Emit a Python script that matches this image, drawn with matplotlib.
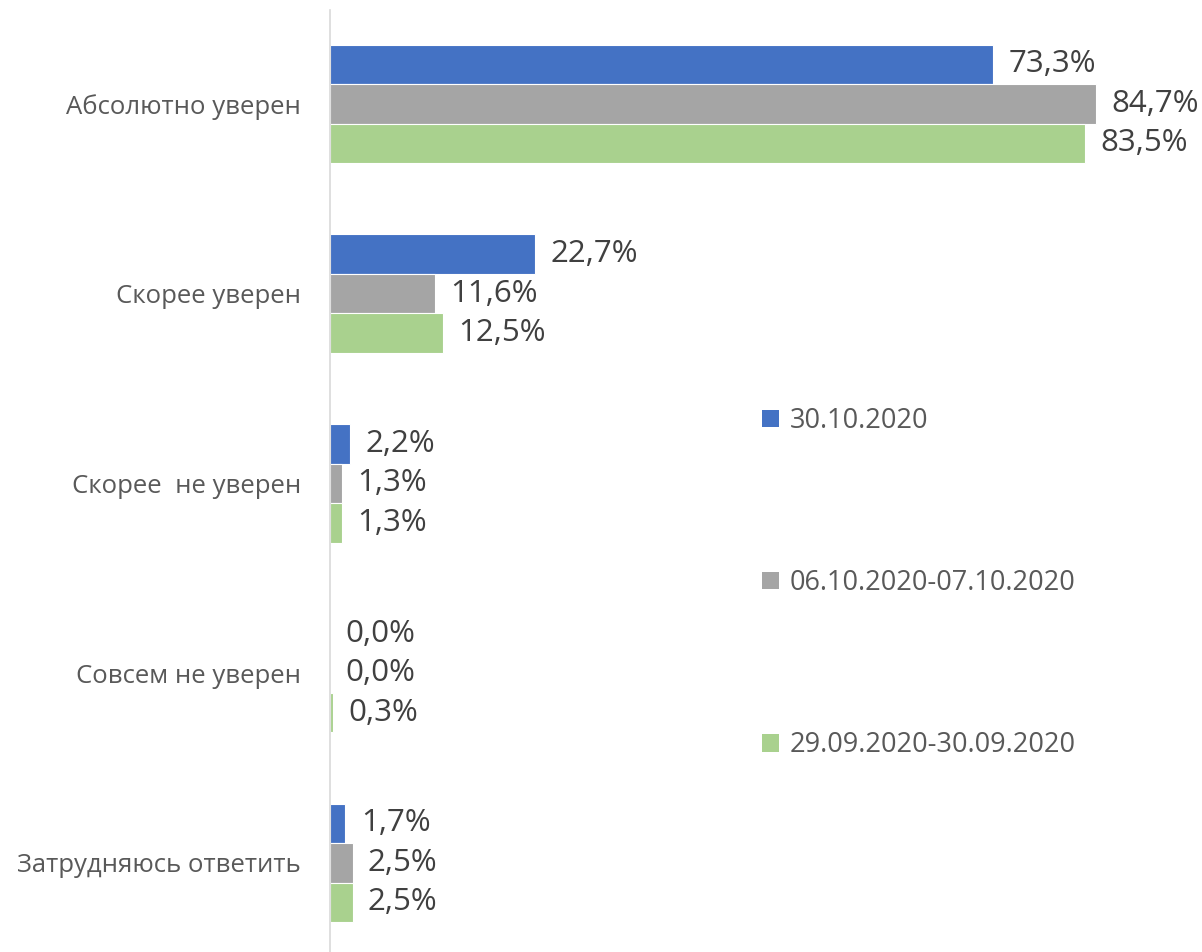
import matplotlib.pyplot as plt
import numpy as np
from matplotlib.patches import Patch

plt.rcParams['font.family'] = ['Open Sans', 'DejaVu Sans']

categories = ["Абсолютно уверен", "Скорее уверен", "Скорее  не уверен",
              "Совсем не уверен", "Затрудняюсь ответить"]
series_names = ["30.10.2020", "06.10.2020-07.10.2020", "29.09.2020-30.09.2020"]
v_3010 = [73.3, 22.7, 2.2, 0.0, 1.7]
v_0610 = [84.7, 11.6, 1.3, 0.0, 2.5]
v_2909 = [83.5, 12.5, 1.3, 0.3, 2.5]
colors = ["#4472C4", "#A5A5A5", "#A9D18E"]

fig = plt.figure(figsize=(12.02, 9.52), dpi=100)
ax = fig.add_axes([330 / 1202, 0, 872 / 1202, 942 / 952])

y = np.arange(len(categories))
h = 0.208
for i, (vals, c, name) in enumerate(zip([v_3010, v_0610, v_2909], colors, series_names)):
    pos = y + (i - 1) * h
    ax.barh(pos, vals, height=h, color=c, edgecolor="white", linewidth=0.8, label=name)
    for p, v in zip(pos, vals):
        ax.text(v + 1.7, p, f"{v:.1f}%".replace(".", ","), va="center", ha="left",
                fontsize=22.5, color="#404040")

ax.set_xlim(0, 96.4)
ax.set_ylim(4.47, -0.495)
ax.set_yticks(y)
ax.set_yticklabels(categories, fontsize=18.5, color="#595959")
ax.tick_params(axis="y", length=0, pad=21)
ax.set_xticks([])
for s in ["top", "right", "bottom"]:
    ax.spines[s].set_visible(False)
ax.spines["left"].set_color("#D9D9D9")
ax.spines["left"].set_linewidth(1.2)

handles = [Patch(facecolor=c, label=n) for c, n in zip(colors, series_names)]
fig.legend(handles=handles, loc="upper left", bbox_to_anchor=(738 / 1202, 1 - 383 / 952),
           frameon=False, fontsize=19.5, labelspacing=4.95, handlelength=0.6,
           handleheight=0.6, handletextpad=0.4, labelcolor="#595959")

fig.savefig("out.png", dpi=100)
